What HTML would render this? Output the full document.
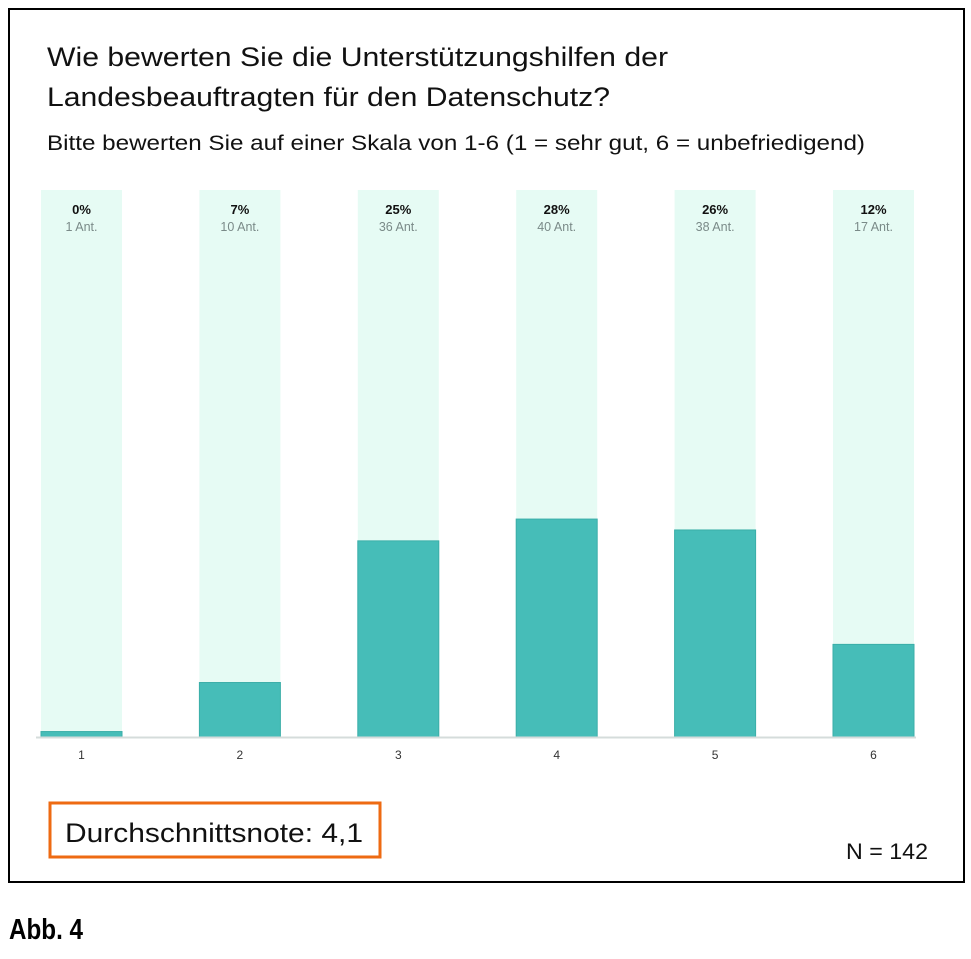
<!DOCTYPE html>
<html><head><meta charset="utf-8"><style>
body{margin:0;background:#fff;width:971px;height:954px;overflow:hidden;font-family:"Liberation Sans",sans-serif}
</style></head><body>
<svg width="971" height="954" xmlns="http://www.w3.org/2000/svg">
<rect x="9" y="9" width="955" height="873" fill="none" stroke="#000" stroke-width="2"/>
<text x="47" y="66" font-size="27" fill="#111" textLength="621" lengthAdjust="spacingAndGlyphs">Wie bewerten Sie die Unterstützungshilfen der</text>
<text x="47" y="106" font-size="27" fill="#111" textLength="563" lengthAdjust="spacingAndGlyphs">Landesbeauftragten für den Datenschutz?</text>
<text x="47" y="150" font-size="21" fill="#111" textLength="818" lengthAdjust="spacingAndGlyphs">Bitte bewerten Sie auf einer Skala von 1-6 (1 = sehr gut, 6 = unbefriedigend)</text>
<g id="bars"></g>
<line x1="36" y1="737.5" x2="916" y2="737.5" stroke="#d5dcdb" stroke-width="2"/>
<rect x="50" y="803" width="330" height="54" fill="none" stroke="#ee6a12" stroke-width="3"/>
<text x="65" y="842" font-size="27" fill="#111" textLength="298" lengthAdjust="spacingAndGlyphs">Durchschnittsnote: 4,1</text>
<text x="928" y="859" font-size="22" fill="#111" text-anchor="end" textLength="82" lengthAdjust="spacingAndGlyphs">N = 142</text>
<text x="9" y="939" font-size="29" font-weight="bold" fill="#000" textLength="74" lengthAdjust="spacingAndGlyphs">Abb. 4</text>
</svg>
<script>
const categories=["1","2","3","4","5","6"];
const percentLabels=["0%","7%","25%","28%","26%","12%"];
const counts=[1,10,36,40,38,17];
const NS="http://www.w3.org/2000/svg";
const g=document.getElementById('bars');
const x0=41,step=158.4,bw=81,base=737,chartTop=190,maxV=100.4;
function xScale(i){return x0+i*step;}
function yScale(v){return base-(base-chartTop)*v/maxV;}
function mk(t,a){const e=document.createElementNS(NS,t);for(const k in a)e.setAttribute(k,a[k]);g.appendChild(e);return e;}
categories.forEach((c,i)=>{
  const x=xScale(i);
  const bg=mk('rect',{x:x,y:chartTop,width:bw,height:base-chartTop,fill:'#e6fbf4'});
  
  
  const y=yScale(counts[i]);
  const b=mk('rect',{x:x,y:y,width:bw,height:base-y,fill:'#46bdb8',stroke:'#3aaea8','stroke-width':1});
  
  
  const p=mk('text',{x:x+bw/2,y:214,'font-size':13,'font-weight':'bold',fill:'#111','text-anchor':'middle'});
  p.textContent=percentLabels[i];
  
  
  const n=mk('text',{x:x+bw/2,y:231,'font-size':12.5,fill:'#7a8a88','text-anchor':'middle'});
  n.textContent=counts[i]+' Ant.';
  
  
  const t=mk('text',{x:x+bw/2,y:759,'font-size':12,fill:'#333','text-anchor':'middle'});
  t.textContent=c;
  
  
});
</script>
</body></html>
